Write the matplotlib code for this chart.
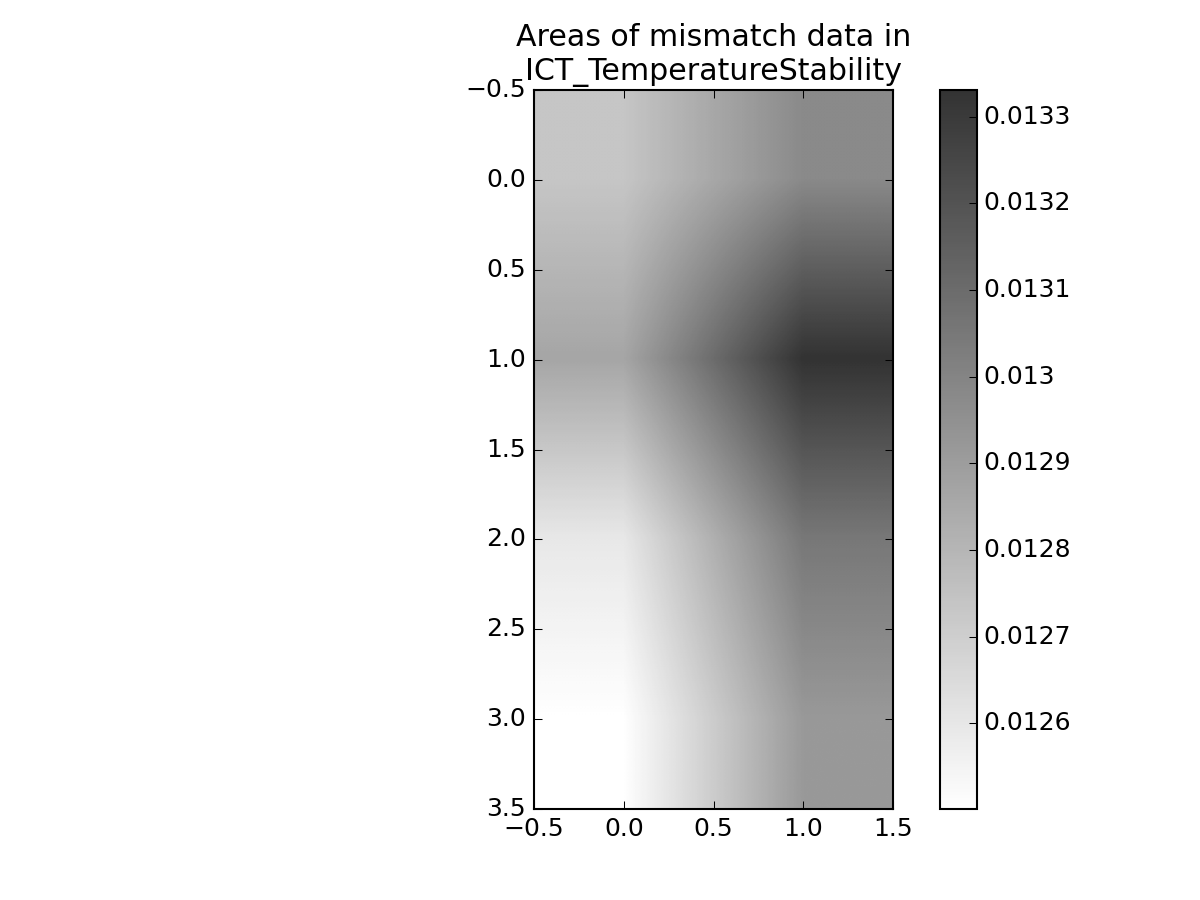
import matplotlib
matplotlib.use("Agg")
import matplotlib.pyplot as plt
import numpy as np
from matplotlib.colors import LinearSegmentedColormap
from matplotlib.ticker import FixedLocator, FuncFormatter

plt.style.use('classic')

row0 = [0.012733, 0.012977]
row1 = [0.012863, 0.013331]
row2 = [0.012595, 0.013050]
row3 = [0.012501, 0.012916]
cbar_ticks = [0.0126, 0.0127, 0.0128, 0.0129, 0.0130, 0.0131, 0.0132, 0.0133]
title = "Areas of mismatch data in\nICT_TemperatureStability"

data = np.array([row0, row1, row2, row3])

cmap = LinearSegmentedColormap.from_list("w2g", [(1, 1, 1), (0.2, 0.2, 0.2)])

fig = plt.figure(figsize=(8, 6), dpi=150)
ax = fig.add_axes([0.445, 0.1011, 0.2992, 0.7989])
im = ax.imshow(data, cmap=cmap, interpolation='bilinear', aspect='auto')
ax.set_xlim(-0.5, 1.5)
ax.set_ylim(3.5, -0.5)
ax.set_xticks([-0.5, 0.0, 0.5, 1.0, 1.5])
ax.set_yticks([-0.5, 0.0, 0.5, 1.0, 1.5, 2.0, 2.5, 3.0, 3.5])
ax.set_title(title)

cax = fig.add_axes([0.7833, 0.1011, 0.0308, 0.7989])
cb = fig.colorbar(im, cax=cax)
cb.locator = FixedLocator(cbar_ticks)
cb.formatter = FuncFormatter(lambda v, p: '%g' % round(v, 6))
cb.update_ticks()
cax.tick_params(pad=3)

fig.savefig("out.png", dpi=150)
